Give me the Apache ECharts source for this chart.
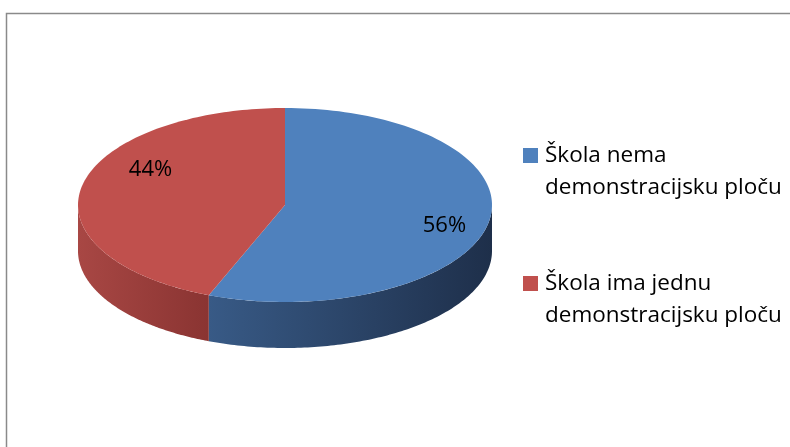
<!DOCTYPE html>
<html>
<head>
<meta charset="utf-8">
<script src="https://cdn.jsdelivr.net/npm/echarts@6/dist/echarts.min.js"></script>
<style>html,body{margin:0;padding:0;background:#fff;}#c{width:790px;height:447px;}</style>
</head>
<body>
<div id="c"></div>
<script>
const categories = ['Škola nema\ndemonstracijsku ploču', 'Škola ima jednu\ndemonstracijsku ploču'];
const values = [56, 44];
const pctLabels = ['56%', '44%'];

const topColors = ['#4F81BD', '#C0504D'];
const sideColors = [['#385A86', '#1E2F4A'], ['#A84744', '#8A3432']];
const labelOffsets = [[9, 7], [16, -22]];
const FONT = '"Open Sans", sans-serif';

const chart = echarts.init(document.getElementById('c'), null, {renderer: 'canvas'});
const total = values.reduce((a, b) => a + b, 0);
const geo = {cx: 285, cy: 205, rx: 207, ry: 97, depth: 46};

function pt(t, dy) {
  return [geo.cx + geo.rx * Math.sin(t), geo.cy - geo.ry * Math.cos(t) + (dy || 0)];
}

function makeRender(idx) {
  return function (params, api) {
    const v = api.value(0);
    let before = 0;
    for (let k = 0; k < idx; k++) before += values[k];
    const a0 = before / total * Math.PI * 2;
    const a1 = a0 + v / total * Math.PI * 2;
    const children = [];
    const topPts = [[geo.cx, geo.cy]];
    const N = 120;
    for (let s = 0; s <= N; s++) topPts.push(pt(a0 + (a1 - a0) * s / N));
    children.push({type: 'polygon', shape: {points: topPts}, style: {fill: topColors[idx]}, z2: 10});
    const s0 = Math.max(a0, Math.PI / 2), s1 = Math.min(a1, Math.PI * 1.5);
    if (s1 > s0) {
      const up = [], down = [];
      for (let s = 0; s <= N; s++) {
        const t = s0 + (s1 - s0) * s / N;
        up.push(pt(t));
        down.push(pt(t, geo.depth));
      }
      const pts = up.concat(down.reverse());
      children.push({
        type: 'polygon', shape: {points: pts}, z2: 5,
        style: {fill: new echarts.graphic.LinearGradient(0, 0, 1, 0, [
          {offset: 0, color: sideColors[idx][0]}, {offset: 1, color: sideColors[idx][1]}])}
      });
    }
    const mid = (a0 + a1) / 2;
    const lp = pt(mid);
    const lx = geo.cx + (lp[0] - geo.cx) * 0.74 + labelOffsets[idx][0];
    const ly = geo.cy + (lp[1] - geo.cy) * 0.74 + labelOffsets[idx][1];
    children.push({type: 'text', z2: 20, style: {text: pctLabels[idx], x: lx, y: ly, align: 'center', verticalAlign: 'middle', fill: '#000', font: '22px ' + FONT}});
    return {type: 'group', children: children};
  };
}

const series = values.map((v, i) => ({
  type: 'custom', name: categories[i], coordinateSystem: 'none',
  renderItem: makeRender(i), data: [[v]], silent: true, animation: false
}));

const legendGraphics = [];
categories.forEach((c, i) => {
  const top = 148 + i * 128;
  legendGraphics.push({type: 'rect', left: 523, top: top, shape: {width: 15, height: 15}, style: {fill: topColors[i]}});
  legendGraphics.push({type: 'text', left: 545, top: top - 8, style: {text: c, font: '22.5px ' + FONT, lineHeight: 32, fill: '#000'}});
});

chart.setOption({
  animation: false,
  backgroundColor: '#fff',
  graphic: [
    {type: 'rect', shape: {x: 6.5, y: 13.5, width: 800, height: 450}, style: {fill: 'none', stroke: '#8a8a8a', lineWidth: 1.5}, silent: true}
  ].concat(legendGraphics),
  series: series
});
</script>
</body>
</html>
